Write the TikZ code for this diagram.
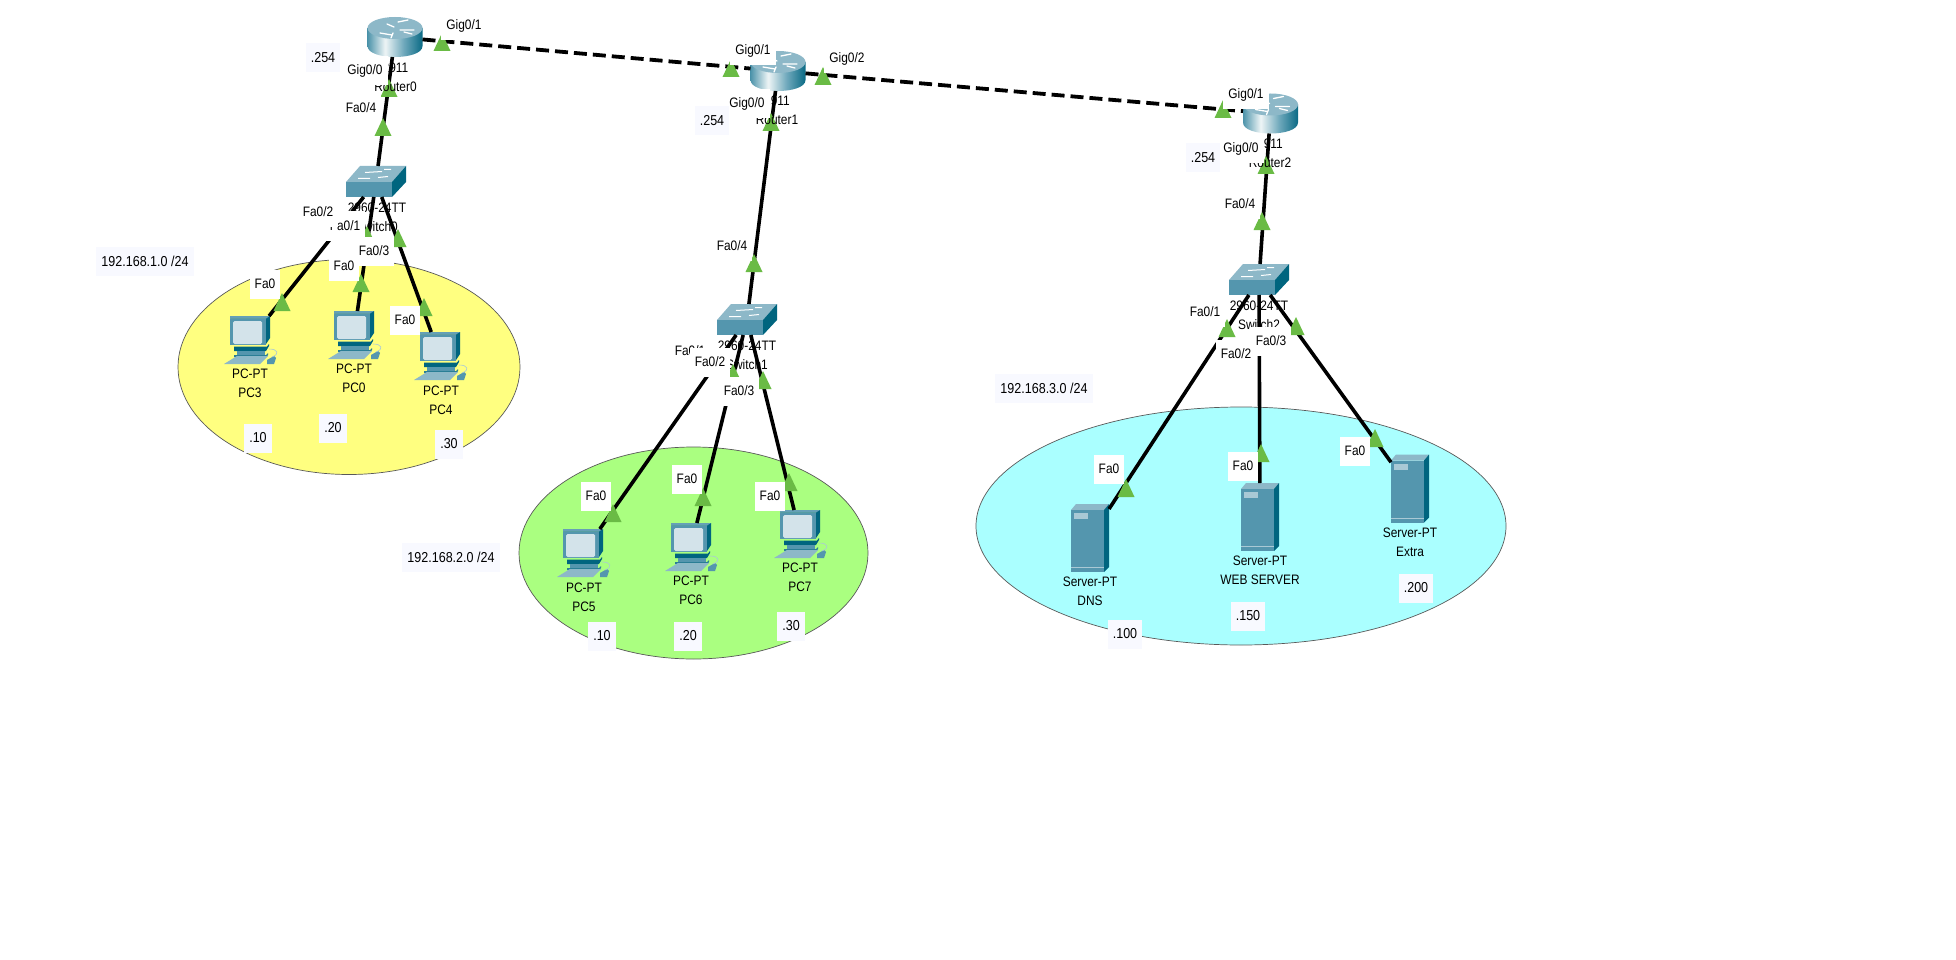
\documentclass[tikz,border=0pt]{standalone}
\usepackage{fontspec}
\setmainfont[FakeStretch=0.87]{Liberation Sans}
\usetikzlibrary{shapes.geometric}
\definecolor{cTop}{HTML}{8DB8C8}
\definecolor{cFront}{HTML}{5496AE}
\definecolor{cDark}{HTML}{00657F}
\definecolor{cScreen}{HTML}{D3E3EA}
\definecolor{cLight}{HTML}{A9C9D5}
\definecolor{rA}{HTML}{4C93AA}
\definecolor{rB}{HTML}{EEF5F6}
\definecolor{rC}{HTML}{6EA8BB}
\definecolor{rD}{HTML}{0A6A85}
\definecolor{cGreen}{HTML}{6ABB45}
\definecolor{cIp}{HTML}{F8F9FF}
\definecolor{cYellow}{HTML}{FFFF80}
\definecolor{cLime}{HTML}{AAFF80}
\definecolor{cCyan}{HTML}{AAFFFF}
\pgfdeclarehorizontalshading{rtrside}{100bp}{color(0bp)=(rA); color(25bp)=(rA); color(41bp)=(rB); color(58bp)=(rC); color(75bp)=(rD); color(100bp)=(rD)}
\tikzset{
  lan/.style={ellipse,draw=black!65,line width=0.7pt,inner sep=0},
  rdev/.style={rectangle,inner sep=0,outer sep=0,minimum width=55,minimum height=40},
  sdev/.style={rectangle,inner sep=0,outer sep=0,minimum width=60,minimum height=31},
  pdev/.style={rectangle,inner sep=0,outer sep=0,minimum width=53,minimum height=48},
  vdev/.style={rectangle,inner sep=0,outer sep=0,minimum width=38,minimum height=68},
  devlab/.style={align=center,inner sep=0,font=\fontsize{13.7}{19}\selectfont},
  lbl/.style={fill=white,inner xsep=5,inner ysep=0,minimum height=29,font=\fontsize{13.7}{14}\selectfont},
  ip/.style={fill=cIp,inner xsep=5,inner ysep=0,minimum height=29,font=\fontsize{14.4}{14}\selectfont},
  wire/.style={line width=3.6pt,black},
  dashwire/.style={line width=3.8pt,black,dash pattern=on 13pt off 6pt},
  routericon/.pic={
    \shade[shading=rtrside] (-27.5,-9) -- (-27.5,9) .. controls (-27.5,23.67) and (27.5,23.67) .. (27.5,9) -- (27.5,-9) -- cycle;
    \fill[cTop] (0,-9) ellipse [x radius=27.5,y radius=11];
    \draw[white,line width=1.3pt,line cap=round] (-15,-4) -- (-3,-2) (3,-15) -- (13,-17) (5,-7) -- (19,-7) (-8,-13) -- (-1,-10) (-4,1) -- (-2,-4) (9,-5) -- (17,-3);
  },
  switchicon/.pic={
    \fill[cTop] (-30,0.5) -- (16,0.5) -- (30,-15.5) -- (-16,-15.5) -- cycle;
    \fill[cFront] (-30,0.5) rectangle (16,15.5);
    \fill[cDark] (16,0.5) -- (30,-15.5) -- (30,0.5) -- (16,15.5) -- cycle;
    \draw[white,line width=1pt] (-11,-9) -- (6,-10) (8,-12) -- (15,-12) (-18,-3) -- (-6,-3) (2,-4) -- (12,-5);
  },
  pcicon/.pic={
    \fill[cDark] (-20,-21.5) -- (-17,-24) -- (20,-24) -- (20,-2) -- (16,4) -- (16,-21.5) -- cycle;
    \fill[cFront!70!cTop] (-20,-24) -- (20,-24) -- (16,-21.5) -- (-20,-21.5) -- cycle;
    \fill[cFront] (-20,-21.5) rectangle (16,5);
    \fill[cScreen,rounded corners=1.5pt] (-17,-19) rectangle (12,4);
    \fill[cDark] (-16,6.5) -- (17,6.5) -- (19,4) -- (19,6) -- (16,11) -- (-16,11) -- cycle;
    \fill[cFront] (-13,11) rectangle (15,15);
    \fill[cDark!70!cTop] (-16,15) -- (16,15) -- (18,13) -- (18,15) -- (16,17) -- (-16,17) -- cycle;
    \fill[cTop] (-13,16) -- (18,16) -- (10,24) -- (-26,24) -- cycle;
    \fill[cFront] (17,20) -- (24,16) -- (26,18) -- (24,24) -- (17,24) -- cycle;
    \draw[cLight,line width=0.6pt] (22,17) .. controls (30,14) and (28,9) .. (19,9);
  },
  servericon/.pic={
    \fill[cTop] (-19,-28) -- (-14,-34) -- (19,-34) -- (14,-28) -- cycle;
    \fill[cFront] (-19,-28) rectangle (14,34);
    \fill[cDark] (14,-28) -- (19,-34) -- (19,29) -- (14,34) -- cycle;
    \fill[cLight] (-16.5,-25) rectangle (-2,-19);
    \draw[cLight,line width=0.6pt] (-19,29.5) -- (14,29.5);
  },
  linkdot/.pic={\fill[cGreen] (0,-9) -- (8.5,9) -- (-8.5,9) -- cycle;}
}
\begin{document}
\begin{tikzpicture}[x=1pt,y=-1pt]
\useasboundingbox (0,0) rectangle (1956,960);
\fill[white] (0,0) rectangle (1956,960);
% LAN ellipses
\node[lan,fill=cYellow,minimum width=342,minimum height=215] (lanA) at (349,367) {};
\node[lan,fill=cLime,minimum width=349,minimum height=212] (lanB) at (693.5,553) {};
\node[lan,fill=cCyan,minimum width=530,minimum height=238] (lanC) at (1241,526) {};
% device anchors
\node[rdev] (r0) at (395,37) {};
\node[rdev] (r1) at (778,71) {};
\node[rdev] (r2) at (1270.5,113.5) {};
\node[sdev] (s0) at (376,181.5) {};
\node[sdev] (s1) at (747,319.5) {};
\node[sdev] (s2) at (1259,279.5) {};
\node[pdev] (pc3) at (250,340) {};
\node[pdev] (pc0) at (354,335) {};
\node[pdev] (pc4) at (440,356) {};
\node[pdev] (pc5) at (583,553) {};
\node[pdev] (pc6) at (691,547) {};
\node[pdev] (pc7) at (800,534) {};
\node[vdev] (dns) at (1090,538) {};
\node[vdev] (web) at (1260,517) {};
\node[vdev] (extra) at (1410,488.5) {};
% icons
\pic at (r0) {routericon}; \pic at (r1) {routericon}; \pic at (r2) {routericon};
\pic at (s0) {switchicon}; \pic at (s1) {switchicon}; \pic at (s2) {switchicon};
\pic at (pc3) {pcicon}; \pic at (pc0) {pcicon}; \pic at (pc4) {pcicon};
\pic at (pc5) {pcicon}; \pic at (pc6) {pcicon}; \pic at (pc7) {pcicon};
\pic at (dns) {servericon}; \pic at (web) {servericon}; \pic at (extra) {servericon};
% device labels crossed by the links
\node[devlab] (ts0) at (377,217) {2960-24TT\\Switch0};
\node[devlab] (ts1) at (747,355.5) {2960-24TT\\Switch1};
\node[devlab] (ts2) at (1259,315) {2960-24TT\\Switch2};
\node[devlab] (tpc3) at (250,383.5) {PC-PT\\PC3};
\node[devlab] (tpc0) at (354,378) {PC-PT\\PC0};
\node[devlab] (tpc4) at (441,400) {PC-PT\\PC4};
\node[devlab] (tpc5) at (584,597.5) {PC-PT\\PC5};
\node[devlab] (tpc6) at (691,590.5) {PC-PT\\PC6};
\node[devlab] (tpc7) at (800,577.5) {PC-PT\\PC7};
\node[devlab] (tdns) at (1090,591.5) {Server-PT\\DNS};
\node[devlab] (tweb) at (1260,570.5) {Server-PT\\WEB SERVER};
\node[devlab] (textra) at (1410,542.5) {Server-PT\\Extra};
% links
\draw[dashwire] (r0) -- (r1);
\draw[dashwire] (r1) -- (r2);
\draw[wire] (r0) -- (s0);
\draw[wire] (r1) -- (s1);
\draw[wire] (r2) -- (s2);
\draw[wire] (s0) -- (pc3);
\draw[wire] (s0) -- (pc0);
\draw[wire] (s0) -- (pc4);
\draw[wire] (s1) -- (pc5);
\draw[wire] (s1) -- (pc6);
\draw[wire] (s1) -- (pc7);
\draw[wire] (s2) -- (dns);
\draw[wire] (s2) -- (web);
\draw[wire] (s2) -- (extra);
% link lights
\foreach \p in {(442,42),(731,68),(823,76),(1223,109),
  (389,88),(383,127),(771,122),(754,263),(1266,165),(1262,221),
  (367,235),(398,238),(282,302),(361,283),(424,307),
  (733,373),(763,380),(613,513),(703,497),(789,482),
  (1227,328),(1296,326),(1126,488),(1261,453),(1375,438)}
  \pic at \p {linkdot};
% router labels lie over the lights
\node[devlab] (tr0) at (395.5,77.5) {2911\\Router0};
\node[devlab] (tr1) at (777,110.5) {2911\\Router1};
\node[devlab] (tr2) at (1270,153.5) {2911\\Router2};
% port labels
\node[lbl] (l1) at (464,26) {Gig0/1};
\node[lbl] (l2) at (365,71) {Gig0/0};
\node[lbl] (l3) at (361,108) {Fa0/4};
\node[lbl] (l4) at (345,226) {Fa0/1};
\node[lbl] (l5) at (318,212) {Fa0/2};
\node[lbl] (l6) at (374,251) {Fa0/3};
\node[lbl] (l7) at (265,284) {Fa0};
\node[lbl] (l8) at (344,266) {Fa0};
\node[lbl] (l9) at (405,320) {Fa0};
\node[lbl] (l10) at (753,51) {Gig0/1};
\node[lbl] (l11) at (847,59) {Gig0/2};
\node[lbl] (l12) at (747,104) {Gig0/0};
\node[lbl] (l13) at (732,246) {Fa0/4};
\node[lbl] (l14) at (690,351) {Fa0/1};
\node[lbl] (l15) at (710,362) {Fa0/2};
\node[lbl] (l16) at (739,391) {Fa0/3};
\node[lbl] (l17) at (596,496) {Fa0};
\node[lbl] (l18) at (687,479) {Fa0};
\node[lbl] (l19) at (770,496) {Fa0};
\node[lbl] (l20) at (1246,95) {Gig0/1};
\node[lbl] (l21) at (1241,149) {Gig0/0};
\node[lbl] (l22) at (1240,204) {Fa0/4};
\node[lbl] (l23) at (1205,312) {Fa0/1};
\node[lbl] (l24) at (1236,354) {Fa0/2};
\node[lbl] (l25) at (1271,341) {Fa0/3};
\node[lbl] (l26) at (1109,469) {Fa0};
\node[lbl] (l27) at (1243,466) {Fa0};
\node[lbl] (l28) at (1355,451) {Fa0};
% addresses
\node[ip] (i1) at (323,58) {.254};
\node[ip] (i2) at (712,121) {.254};
\node[ip] (i3) at (1203,158) {.254};
\node[ip] (n1) at (145,261) {192.168.1.0 /24};
\node[ip] (n2) at (451,557) {192.168.2.0 /24};
\node[ip] (n3) at (1044,388) {192.168.3.0 /24};
\node[ip] (a1) at (258,438) {.10};
\node[ip] (a2) at (333,428) {.20};
\node[ip] (a3) at (449,444) {.30};
\node[ip] (a4) at (602,636) {.10};
\node[ip] (a5) at (688,636) {.20};
\node[ip] (a6) at (791,626) {.30};
\node[ip] (a7) at (1125,634) {.100};
\node[ip] (a8) at (1248,616) {.150};
\node[ip] (a9) at (1416,588) {.200};
\end{tikzpicture}
\end{document}
